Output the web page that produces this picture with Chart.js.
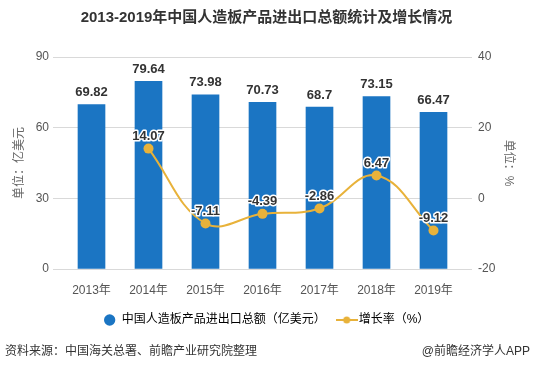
<!DOCTYPE html>
<html lang="zh">
<head>
<meta charset="UTF-8">
<title>2013-2019年中国人造板产品进出口总额统计及增长情况</title>
<style>
  body { margin: 0; background: #fff; }
  #wrap { width: 533px; height: 371px; }
</style>
</head>
<body>
<div id="wrap"><canvas id="chart" width="533" height="371"></canvas></div>
<script src="https://cdn.jsdelivr.net/npm/chart.js"></script>
<script>
// 数据
const years = ['2013年', '2014年', '2015年', '2016年', '2017年', '2018年', '2019年'];
const amount = [69.82, 79.64, 73.98, 70.73, 68.7, 73.15, 66.47];
const growth = [null, 14.07, -7.11, -4.39, -2.86, 6.47, -9.12];
const leftTicks = [0, 30, 60, 90];
const rightTicks = [-20, 0, 20, 40];

const FONT = '"Liberation Sans", "Noto Sans CJK SC", sans-serif';
const BLUE = '#1b75c3';
const GOLD = '#e8b23a';

// 图例里的折线图标
const lineIcon = document.createElement('canvas');
lineIcon.width = 22; lineIcon.height = 10;
(function () {
  const c = lineIcon.getContext('2d');
  c.strokeStyle = GOLD; c.lineWidth = 2;
  c.beginPath(); c.moveTo(0, 5); c.lineTo(22, 5); c.stroke();
  c.fillStyle = GOLD;
  c.beginPath(); c.arc(11, 5, 3.5, 0, Math.PI * 2); c.fill();
})();

// 数据标签 + 资料来源
const labelPlugin = {
  id: 'labels',
  afterDatasetsDraw(chart) {
    const ctx = chart.ctx;
    ctx.save();
    ctx.textAlign = 'center';
    ctx.textBaseline = 'middle';
    ctx.font = 'bold 13px ' + FONT;
    chart.getDatasetMeta(0).data.forEach((el, i) => {
      ctx.fillStyle = '#333';
      ctx.fillText(String(amount[i]), el.x, el.y - 12);
    });
    chart.getDatasetMeta(1).data.forEach((el, i) => {
      if (growth[i] === null) return;
      const t = String(growth[i]);
      ctx.lineWidth = 3;
      ctx.strokeStyle = '#fff';
      ctx.lineJoin = 'round';
      ctx.strokeText(t, el.x, el.y - 12);
      ctx.fillStyle = '#333';
      ctx.fillText(t, el.x, el.y - 12);
    });
    ctx.restore();
  },
  afterDraw(chart) {
    const ctx = chart.ctx;
    ctx.save();
    ctx.font = '12px ' + FONT;
    ctx.fillStyle = '#333';
    ctx.textBaseline = 'middle';
    ctx.textAlign = 'left';
    ctx.fillText('资料来源：中国海关总署、前瞻产业研究院整理', 5, 352);
    ctx.textAlign = 'right';
    ctx.fillText('@前瞻经济学人APP', 530, 352);
    ctx.restore();
  }
};

new Chart(document.getElementById('chart'), {
  data: {
    labels: years,
    datasets: [
      {
        type: 'bar',
        label: '中国人造板产品进出口总额（亿美元）',
        data: amount,
        yAxisID: 'y',
        backgroundColor: BLUE,
        barThickness: 27,
        order: 1
      },
      {
        type: 'line',
        label: '增长率（%）',
        data: growth,
        yAxisID: 'y1',
        borderColor: GOLD,
        backgroundColor: GOLD,
        borderWidth: 2,
        pointRadius: 5,
        pointBackgroundColor: GOLD,
        pointBorderWidth: 0,
        tension: 0.4,
        order: 0
      }
    ]
  },
  options: {
    responsive: false,
    animation: false,
    layout: { padding: { bottom: 35 } },
    plugins: {
      title: {
        display: true,
        text: '2013-2019年中国人造板产品进出口总额统计及增长情况',
        color: '#333',
        font: { family: FONT, size: 15, weight: 'bold' },
        padding: { top: 9, bottom: 30 }
      },
      legend: {
        position: 'bottom',
        labels: {
          color: '#333',
          font: { family: FONT, size: 12 },
          usePointStyle: true,
          boxHeight: 8,
          padding: 15,
          generateLabels(chart) {
            return [
              { text: '中国人造板产品进出口总额（亿美元）', fillStyle: BLUE, strokeStyle: BLUE, lineWidth: 0, pointStyle: 'circle', datasetIndex: 0 },
              { text: '增长率（%）', fillStyle: GOLD, strokeStyle: GOLD, lineWidth: 0, pointStyle: lineIcon, datasetIndex: 1 }
            ];
          }
        }
      },
      tooltip: { enabled: false }
    },
    scales: {
      x: {
        grid: { display: false },
        border: { display: false },
        ticks: { color: '#555', font: { family: FONT, size: 12 }, padding: 6 },
        afterFit(s) { s.height = 30; }
      },
      y: {
        position: 'left',
        min: 0, max: 90,
        afterBuildTicks(s) { s.ticks = leftTicks.map(v => ({ value: v })); },
        grid: { color: '#d9d9d9', tickLength: 10, tickColor: '#d9d9d9' },
        border: { display: false },
        ticks: { color: '#555', font: { family: FONT, size: 12 }, padding: 4 },
        title: { display: true, text: '单位：亿美元', color: '#666', font: { family: FONT, size: 12 }, padding: { top: 12, bottom: 0 } },
        afterFit(s) { s.width = 63; }
      },
      y1: {
        position: 'right',
        min: -20, max: 40,
        afterBuildTicks(s) { s.ticks = rightTicks.map(v => ({ value: v })); },
        grid: { drawOnChartArea: false, tickLength: 10, color: '#d9d9d9' },
        border: { display: false },
        ticks: { color: '#555', font: { family: FONT, size: 12 }, padding: 6 },
        title: { display: true, text: '单位：%', color: '#666', font: { family: FONT, size: 12 }, padding: { top: 17, bottom: 0 } },
        afterFit(s) { s.width = 71; }
      }
    }
  },
  plugins: [labelPlugin]
});
</script>
</body>
</html>
